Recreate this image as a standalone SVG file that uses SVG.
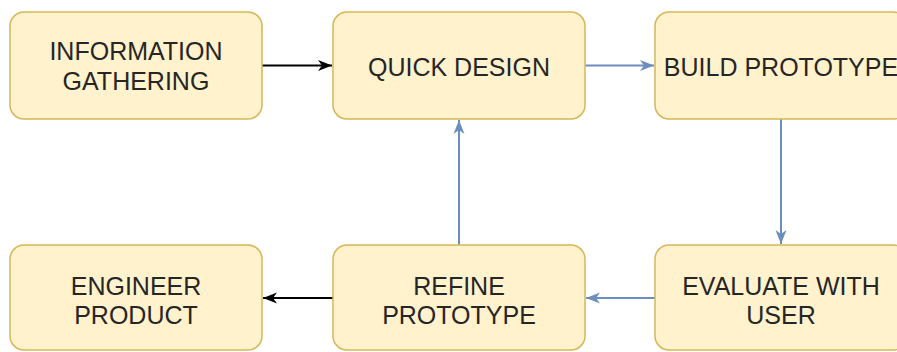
<svg xmlns="http://www.w3.org/2000/svg" width="897" height="352" viewBox="0 0 897 352">
  <defs>
    <style>
      .box { fill: #fff2cc; stroke: #d6b656; stroke-width: 1.5; }
      .lbl { font-family: "Liberation Sans", Arial, sans-serif; font-size: 25px; fill: #262626; text-anchor: middle; }
      .blk { stroke: #000000; stroke-width: 2; fill: none; }
      .blu { stroke: #6c8ebf; stroke-width: 2; fill: none; }
    </style>
    <marker id="ahBlack" markerWidth="16" markerHeight="14" refX="14" refY="7" orient="auto" markerUnits="userSpaceOnUse">
      <path d="M0,1.5 L14,7 L0,12.5 L4,7 Z" fill="#000000"/>
    </marker>
    <marker id="ahBlue" markerWidth="16" markerHeight="14" refX="14" refY="7" orient="auto" markerUnits="userSpaceOnUse">
      <path d="M0,1.5 L14,7 L0,12.5 L4,7 Z" fill="#6c8ebf"/>
    </marker>
  </defs>
  <rect width="897" height="352" fill="#ffffff"/>

  <g id="connectors">
    <line class="blk" x1="262" y1="65.5" x2="332" y2="65.5" marker-end="url(#ahBlack)"/>
    <line class="blu" x1="585" y1="65.5" x2="654" y2="65.5" marker-end="url(#ahBlue)"/>
    <line class="blu" x1="781" y1="119" x2="781" y2="244" marker-end="url(#ahBlue)"/>
    <line class="blu" x1="655" y1="298" x2="586" y2="298" marker-end="url(#ahBlue)"/>
    <line class="blu" x1="459" y1="245" x2="459" y2="120" marker-end="url(#ahBlue)"/>
    <line class="blk" x1="333" y1="298" x2="263" y2="298" marker-end="url(#ahBlack)"/>
  </g>

  <g id="information-gathering">
    <rect class="box" x="10" y="12" width="252" height="107" rx="14"/>
    <text class="lbl" x="136" y="60">INFORMATION</text>
    <text class="lbl" x="136" y="89.5">GATHERING</text>
  </g>
  <g id="quick-design">
    <rect class="box" x="333" y="12" width="252" height="107" rx="14"/>
    <text class="lbl" x="459" y="75.5">QUICK DESIGN</text>
  </g>
  <g id="build-prototype">
    <rect class="box" x="655" y="12" width="252" height="107" rx="14"/>
    <text class="lbl" x="781" y="75.5">BUILD PROTOTYPE</text>
  </g>
  <g id="engineer-product">
    <rect class="box" x="10" y="245" width="252" height="105" rx="14"/>
    <text class="lbl" x="136" y="295">ENGINEER</text>
    <text class="lbl" x="136" y="324">PRODUCT</text>
  </g>
  <g id="refine-prototype">
    <rect class="box" x="333" y="245" width="252" height="105" rx="14"/>
    <text class="lbl" x="459" y="295">REFINE</text>
    <text class="lbl" x="459" y="324">PROTOTYPE</text>
  </g>
  <g id="evaluate-with-user">
    <rect class="box" x="655" y="245" width="252" height="105" rx="14"/>
    <text class="lbl" x="781" y="295">EVALUATE WITH</text>
    <text class="lbl" x="781" y="324">USER</text>
  </g>
</svg>
